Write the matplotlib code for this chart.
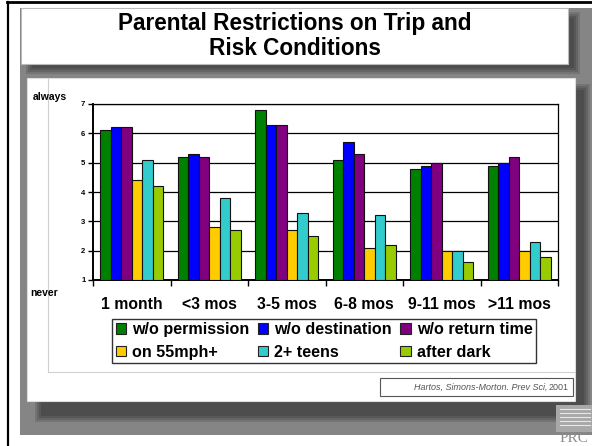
import matplotlib
matplotlib.use("Agg")
import matplotlib.pyplot as plt
import numpy as np
from matplotlib.patches import Rectangle, Patch
from matplotlib.lines import Line2D

plt.rcParams["font.family"] = ["Liberation Sans", "DejaVu Sans"]
plt.rcParams["font.weight"] = "bold"

# %% datos
categorias = ["1 month", "<3 mos", "3-5 mos", "6-8 mos", "9-11 mos", ">11 mos"]
series = ["w/o permission", "w/o destination", "w/o return time",
          "on 55mph+", "2+ teens", "after dark"]
sin_permiso = [6.1, 5.2, 6.8, 5.1, 4.8, 4.9]
sin_destino = [6.2, 5.3, 6.3, 5.7, 4.9, 5.0]
sin_regreso = [6.2, 5.2, 6.3, 5.3, 5.0, 5.2]
mph55 = [4.4, 2.8, 2.7, 2.1, 2.0, 2.0]
dos_teens = [5.1, 3.8, 3.3, 3.2, 2.0, 2.3]
de_noche = [4.2, 2.7, 2.5, 2.2, 1.6, 1.8]
valores = [sin_permiso, sin_destino, sin_regreso, mph55, dos_teens, de_noche]
colores = ["#008000", "#0000FF", "#800080", "#FFCC00", "#33CCCC", "#99CC00"]
y_ticks = [1, 2, 3, 4, 5, 6, 7]

titulo = "Parental Restrictions on Trip and\nRisk Conditions"
cita = "Hartos, Simons-Morton. Prev Sci,"
cita_anio = "2001"

# %% figura
W, H = 592, 446
fig = plt.figure(figsize=(W / 100, H / 100), dpi=100)


def fx(x):
    return x / W


def fy(y):
    return 1 - y / H


def caja(x0, y0, x1, y1, z=0.5, **kw):
    r = Rectangle((fx(x0), fy(y1)), fx(x1) - fx(x0), fy(y0) - fy(y1),
                  transform=fig.transFigure, zorder=z, **kw)
    fig.add_artist(r)
    return r


def sombra(x0, y0, x1, y1):
    for k in range(0, 8, 2):
        caja(x0 + k, y0 + k, x1 - k, y1 - k, color="black", alpha=0.12, lw=0)


# fondo gris de la diapositiva
caja(20, 8, 592, 435, color="#858585", lw=0)
sombra(26, 12, 580, 74)
caja(21, 8, 568, 64, facecolor="white", edgecolor="#bbbbbb", lw=0.8)
sombra(35, 84, 590, 422)
caja(27, 78, 575, 401, facecolor="white", edgecolor="#dddddd", lw=0.8)

# marco interior claro
fig.add_artist(Line2D([fx(48), fx(48)], [fy(78), fy(372)], color="#d0d0d0",
                      lw=0.8, transform=fig.transFigure, zorder=0.6))
fig.add_artist(Line2D([fx(48), fx(575)], [fy(372), fy(372)], color="#d0d0d0",
                      lw=0.8, transform=fig.transFigure, zorder=0.6))

# bordes negros
fig.add_artist(Line2D([fx(7), 1], [fy(2), fy(2)], color="black", lw=2,
                      transform=fig.transFigure, zorder=0.7))
fig.add_artist(Line2D([fx(7.5), fx(7.5)], [0, fy(1.5)], color="black", lw=1.6,
                      transform=fig.transFigure, zorder=0.7))

# logo PRC
caja(556, 405, 592, 432, color="#a8a8a8", lw=0)
for yy in [409, 413, 417, 421, 425]:
    fig.add_artist(Line2D([fx(560), fx(590)], [fy(yy), fy(yy)], color="#e8e8e8",
                          lw=0.8, transform=fig.transFigure, zorder=0.8))
fig.text(fx(574), fy(445), "PRC", family=["Liberation Serif", "DejaVu Serif"],
         fontsize=11, weight="normal", color="#8c8c8c", ha="center",
         va="bottom", zorder=3)

# %% titulo
fig.text(fx(295), fy(36), titulo, ha="center", va="center", fontsize=16.3,
         weight="bold", linespacing=1.08, zorder=3)

# %% grafico de barras
ax = fig.add_axes([fx(93), fy(280), fx(558) - fx(93), fy(104) - fy(280)])
ax.set_zorder(2)
ax.set_facecolor("white")

x = np.arange(len(categorias)) + 0.5
ancho = 0.135
for j, (vals, col) in enumerate(zip(valores, colores)):
    ax.bar(x + (j - 2.5) * ancho, np.array(vals) - 1, bottom=1, width=ancho,
           color=col, edgecolor="#111111", linewidth=0.8, zorder=3)

ax.set_xlim(0, len(categorias))
ax.set_ylim(1, 7)
ax.set_yticks(y_ticks)
ax.set_yticklabels([str(v) for v in y_ticks], fontsize=5.5, weight="bold")
ax.yaxis.grid(True, color="black", lw=0.9, zorder=1)
ax.set_axisbelow(True)

ax.set_xticks(np.arange(len(categorias) + 1))
ax.set_xticklabels([])
ax.set_xticks(x, categorias, minor=True)
ax.tick_params(axis="x", which="major", length=4, width=1, direction="out")
ax.tick_params(axis="x", which="minor", length=0, pad=12, labelsize=11.3)
for lbl in ax.get_xticklabels(minor=True):
    lbl.set_fontweight("bold")
ax.tick_params(axis="y", length=3.5, width=1, pad=2)

for lado in ["top", "right"]:
    ax.spines[lado].set_linewidth(0.9)
for lado in ["left", "bottom"]:
    ax.spines[lado].set_linewidth(1.4)

fig.text(fx(33), fy(97), "always", fontsize=7.5, weight="bold", ha="left",
         va="center", zorder=3)
fig.text(fx(30), fy(293), "never", fontsize=7.5, weight="bold", ha="left",
         va="center", zorder=3)

# %% leyenda (orden por columnas)
orden = [0, 3, 1, 4, 2, 5]
handles = [Patch(facecolor=colores[i], edgecolor="#222222", lw=0.8) for i in orden]
etiquetas = [series[i] for i in orden]
leg = ax.legend(handles, etiquetas, ncol=3, loc="center",
                bbox_to_anchor=(fx(324), fy(341)), bbox_transform=fig.transFigure,
                prop={"weight": "bold", "size": 11.6},
                frameon=True, fancybox=False, edgecolor="black",
                handlelength=0.65, handleheight=0.65, handletextpad=0.35,
                columnspacing=0.55, labelspacing=0.45, borderpad=0.22,
                borderaxespad=0)
leg.get_frame().set_linewidth(1.0)

# %% cita
caja(380, 378, 573, 396, z=1.5, facecolor="white", edgecolor="#555555", lw=0.8)
fig.text(fx(547), fy(387.5), cita, fontsize=6.5, style="italic",
         weight="normal", color="#555555", ha="right", va="center", zorder=3)
fig.text(fx(549), fy(387.5), cita_anio, fontsize=6.5, weight="normal",
         color="#555555", ha="left", va="center", zorder=3)

fig.savefig("out.png", dpi=100)
